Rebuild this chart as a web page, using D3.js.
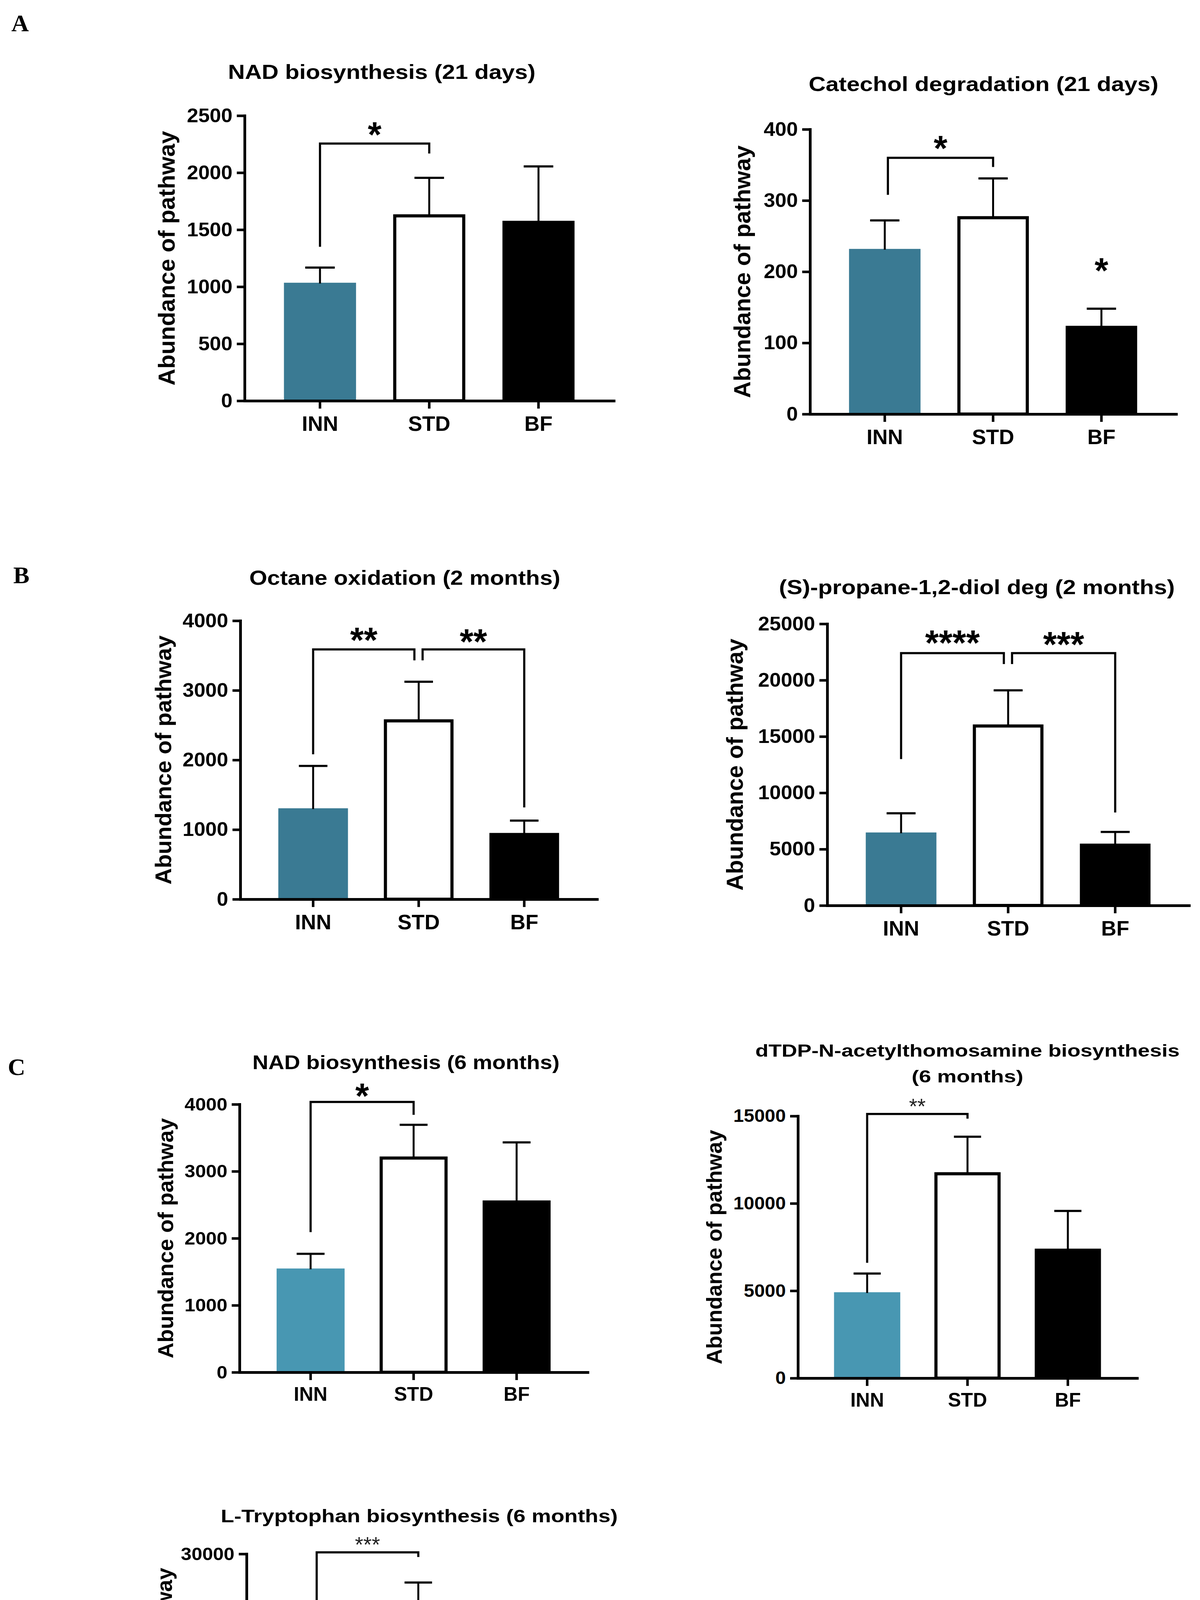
<!DOCTYPE html>
<html><head><meta charset="utf-8">
<script src="https://cdn.jsdelivr.net/npm/d3@7"></script>
<style>html,body{margin:0;padding:0;background:#fff;overflow:hidden}svg{display:block}</style>
</head><body>
<svg id="fig" width="3071" height="4752" viewBox="0 0 3071 4752" xmlns="http://www.w3.org/2000/svg"></svg>
<script>
// ---------------- DATA ----------------
const groups = ["INN", "STD", "BF"];

// A (left): NAD biosynthesis (21 days)
const nad21Title = ["NAD biosynthesis (21 days)"];
const nad21Mean  = [1035, 1635, 1578];
const nad21Err   = [133, 320, 477];
const nad21Ticks = [0, 500, 1000, 1500, 2000, 2500];
const nad21Sig   = [{from: 0, to: 1, label: "*", low1: 1350, top: 2255, low2: 2168, labelY: 2400}];

// A (right): Catechol degradation (21 days)
const cat21Title = ["Catechol degradation (21 days)"];
const cat21Mean  = [232, 278, 124];
const cat21Err   = [40, 53, 24];
const cat21Ticks = [0, 100, 200, 300, 400];
const cat21Sig   = [{from: 0, to: 1, label: "*", low1: 308, top: 360, low2: 347, labelY: 384}];
const cat21Marks = [{at: 2, label: "*", labelY: 212}];

// B (left): Octane oxidation (2 months)
const oct2Title = ["Octane oxidation (2 months)"];
const oct2Mean  = [1306, 2584, 952];
const oct2Err   = [609, 539, 177];
const oct2Ticks = [0, 1000, 2000, 3000, 4000];
const oct2Sig   = [
  {from: 0, to: 1, label: "**", low1: 2081, top: 3587, low2: 3430, labelY: 3826},
  {from: 1, to: 2, label: "**", low1: 3430, top: 3587, low2: 1318, labelY: 3804}
];

// B (right): (S)-propane-1,2-diol deg (2 months)
const prop2Title = ["(S)-propane-1,2-diol deg (2 months)"];
const prop2Mean  = [6480, 16070, 5490];
const prop2Err   = [1700, 3030, 1040];
const prop2Ticks = [0, 5000, 10000, 15000, 20000, 25000];
const prop2Sig   = [
  {from: 0, to: 1, label: "****", low1: 12990, top: 22400, low2: 21430, labelY: 23960},
  {from: 1, to: 2, label: "***",  low1: 21430, top: 22400, low2: 8250,  labelY: 23820}
];

// C (left): NAD biosynthesis (6 months)
const nad6Title = ["NAD biosynthesis (6 months)"];
const nad6Mean  = [1549, 3221, 2565];
const nad6Err   = [219, 473, 866];
const nad6Ticks = [0, 1000, 2000, 3000, 4000];
const nad6Sig   = [{from: 0, to: 1, label: "*", low1: 2092, top: 4035, low2: 3843, labelY: 4233}];

// C (right): dTDP-N-acetylthomosamine biosynthesis (6 months)
const dtdp6Title = ["dTDP-N-acetylthomosamine biosynthesis", "(6 months)"];
const dtdp6Mean  = [4915, 11785, 7410];
const dtdp6Err   = [1073, 2028, 2160];
const dtdp6Ticks = [0, 5000, 10000, 15000];
const dtdp6Sig   = [{from: 0, to: 1, label: "**", low1: 6600, top: 15115, low2: 14850, labelY: 15827}];

// C (bottom): L-Tryptophan biosynthesis (6 months)
const trp6Title = ["L-Tryptophan biosynthesis (6 months)"];
const trp6Mean  = [13500, 24100, 11760];
const trp6Err   = [2310, 2650, 2020];
const trp6Ticks = [0, 10000, 20000, 30000];
const trp6Sig   = [{from: 0, to: 1, label: "***", low1: 20270, top: 30180, low2: 29640, labelY: 31600}];

const yLabel = "Abundance of pathway";
const panelLetters = ["A", "B", "C"];

// ---------------- LAYOUT / STYLE ----------------
const FONT = "'Liberation Sans', Arial, Helvetica, sans-serif";
const SERIF = "'Liberation Serif', 'Times New Roman', serif";
const TEAL_D = "#3a7a93";
const TEAL_L = "#4897b2";

const letterPos = [{x: 29, y: 80}, {x: 34, y: 1493}, {x: 20, y: 2752}];

const panels = [
  {title: nad21Title, mean: nad21Mean, err: nad21Err, ticks: nad21Ticks, sig: nad21Sig, marks: [],
   ax: 626, xEnd: 1571, y0: 1026, yTop: 296, color: TEAL_D,
   titleX: 977, titleY: [202], titleW: [787], titleSize: 52,
   tickSize: 50, tickStretch: 1.05, xlabSize: 54, xlabPad: 19,
   ylabX: 447, ylabLen: 652, starSize: 90, starWeight: "bold", nudges: [[0, 0]]},
  {title: cat21Title, mean: cat21Mean, err: cat21Err, ticks: cat21Ticks, sig: cat21Sig, marks: cat21Marks,
   ax: 2073, xEnd: 3010, y0: 1060, yTop: 331, color: TEAL_D,
   titleX: 2517, titleY: [233], titleW: [895], titleSize: 52,
   tickSize: 50, tickStretch: 1.05, xlabSize: 54, xlabPad: 19,
   ylabX: 1920, ylabLen: 647, starSize: 90, starWeight: "bold", nudges: [[8, 0]]},
  {title: oct2Title, mean: oct2Mean, err: oct2Err, ticks: oct2Ticks, sig: oct2Sig, marks: [],
   ax: 615, xEnd: 1528, y0: 2302, yTop: 1589, color: TEAL_D,
   titleX: 1036, titleY: [1497], titleW: [796], titleSize: 52,
   tickSize: 50, tickStretch: 1.05, xlabSize: 54, xlabPad: 19,
   ylabX: 438, ylabLen: 638, starSize: 90, starWeight: "bold", nudges: [[0, -11], [10, 0]]},
  {title: prop2Title, mean: prop2Mean, err: prop2Err, ticks: prop2Ticks, sig: prop2Sig, marks: [],
   ax: 2117, xEnd: 3043, y0: 2318, yTop: 1597, color: TEAL_D,
   titleX: 2500, titleY: [1521], titleW: [1013], titleSize: 52,
   tickSize: 50, tickStretch: 1.05, xlabSize: 54, xlabPad: 19,
   ylabX: 1901, ylabLen: 645, starSize: 90, starWeight: "bold", nudges: [[0, -11], [10, 0]]},
  {title: nad6Title, mean: nad6Mean, err: nad6Err, ticks: nad6Ticks, sig: nad6Sig, marks: [],
   ax: 613, xEnd: 1504, y0: 3513, yTop: 2827, color: TEAL_L,
   titleX: 1039, titleY: [2737], titleW: [786], titleSize: 50,
   tickSize: 47, tickStretch: 1.05, xlabSize: 50, xlabPad: 17,
   ylabX: 443, ylabLen: 615, starSize: 90, starWeight: "bold", nudges: [[0, 0]]},
  {title: dtdp6Title, mean: dtdp6Mean, err: dtdp6Err, ticks: dtdp6Ticks, sig: dtdp6Sig, marks: [],
   ax: 2042, xEnd: 2910, y0: 3528, yTop: 2857, color: TEAL_L,
   titleX: 2476, titleY: [2705, 2771], titleW: [1086, 286], titleSize: 45,
   tickSize: 46, tickStretch: 1.05, xlabSize: 50, xlabPad: 17,
   ylabX: 1847, ylabLen: 600, starSize: 55, starWeight: "normal", nudges: [[0, 0]]},
  {title: trp6Title, mean: trp6Mean, err: trp6Err, ticks: trp6Ticks, sig: trp6Sig, marks: [],
   ax: 631, xEnd: 1510, y0: 4653, yTop: 3978, color: TEAL_L,
   titleX: 1073, titleY: [3897], titleW: [1016], titleSize: 47,
   tickSize: 47, tickStretch: 1.05, xlabSize: 50, xlabPad: 14,
   ylabX: 440, ylabLen: 604, starSize: 55, starWeight: "normal", nudges: [[0, 0]]}
];

// ---------------- DRAW ----------------
const svg = d3.select("#fig");
svg.append("rect").attr("width", 3071).attr("height", 4752).attr("fill", "#fff");

function stretchText(sel, factor) {
  sel.each(function () {
    const w = this.getComputedTextLength();
    this.setAttribute("textLength", w * factor);
    this.setAttribute("lengthAdjust", "spacingAndGlyphs");
  });
}

panelLetters.forEach((L, i) => {
  svg.append("text").attr("x", letterPos[i].x).attr("y", letterPos[i].y)
    .attr("font-family", SERIF).attr("font-weight", "bold").attr("font-size", 62)
    .attr("fill", "#000").text(L);
});

function drawPanel(p) {
  const g = svg.append("g");
  const y = d3.scaleLinear().domain([0, d3.max(p.ticks)]).range([p.y0, p.yTop]);
  const x = d3.scaleBand().domain(groups).range([p.ax, p.xEnd]).paddingInner(0.34).paddingOuter(0.36);
  const bw = x.bandwidth();
  const cx = i => x(groups[i]) + bw / 2;

  // bars
  const fills = [p.color, "#fff", "#000"];
  const sw = 8;
  groups.forEach((gname, i) => {
    const v = p.mean[i];
    if (i === 1) {
      g.append("rect")
        .attr("x", x(gname) + sw / 2).attr("width", bw - sw)
        .attr("y", y(v) + sw / 2).attr("height", p.y0 - y(v) - sw / 2)
        .attr("fill", "#fff").attr("stroke", "#000").attr("stroke-width", sw);
    } else {
      g.append("rect")
        .attr("x", x(gname)).attr("width", bw)
        .attr("y", y(v)).attr("height", p.y0 - y(v))
        .attr("fill", fills[i]);
    }
  });

  // error bars (upper)
  const capW = bw * 0.41;
  groups.forEach((gname, i) => {
    const c = cx(i), top = y(p.mean[i] + p.err[i]);
    g.append("line").attr("x1", c).attr("x2", c).attr("y1", y(p.mean[i]) + 2).attr("y2", top)
      .attr("stroke", "#000").attr("stroke-width", 5);
    g.append("line").attr("x1", c - capW / 2).attr("x2", c + capW / 2).attr("y1", top).attr("y2", top)
      .attr("stroke", "#000").attr("stroke-width", 5.5);
  });

  // axes
  const yAx = g.append("g").attr("transform", `translate(${p.ax},0)`)
    .call(d3.axisLeft(y).tickValues(p.ticks).tickSize(20).tickSizeOuter(0).tickPadding(11).tickFormat(d3.format("d")));
  const xAx = g.append("g").attr("transform", `translate(0,${p.y0})`)
    .call(d3.axisBottom(x).tickSize(20).tickSizeOuter(0).tickPadding(p.xlabPad));
  [yAx, xAx].forEach(a => {
    a.attr("font-family", FONT).attr("font-weight", "bold").attr("color", "#000");
    a.select(".domain").attr("stroke-width", 7).attr("stroke-linecap", "square");
    a.selectAll(".tick line").attr("stroke-width", 6.5);
  });
  yAx.attr("font-size", p.tickSize);
  xAx.attr("font-size", p.xlabSize);
  stretchText(yAx.selectAll(".tick text"), p.tickStretch);

  // y label
  const yl = (p.y0 + p.yTop) / 2;
  g.append("text").attr("transform", `translate(${p.ylabX},${yl}) rotate(-90)`)
    .attr("text-anchor", "middle").attr("font-family", FONT).attr("font-weight", "bold")
    .attr("font-size", p.ylabLen / 10.95).attr("textLength", p.ylabLen).attr("lengthAdjust", "spacingAndGlyphs")
    .attr("fill", "#000").text(yLabel);

  // title
  p.title.forEach((t, k) => {
    g.append("text").attr("x", p.titleX).attr("y", p.titleY[k]).attr("text-anchor", "middle")
      .attr("font-family", FONT).attr("font-weight", "bold").attr("font-size", p.titleSize)
      .attr("textLength", p.titleW[k]).attr("lengthAdjust", "spacingAndGlyphs")
      .attr("fill", "#000").text(t);
  });

  // significance brackets
  p.sig.forEach((s, k) => {
    const nd = p.nudges[k] || [0, 0];
    const xa = cx(s.from) + nd[0], xb = cx(s.to) + nd[1];
    g.append("path")
      .attr("d", `M${xa},${y(s.low1)}V${y(s.top)}H${xb}V${y(s.low2)}`)
      .attr("fill", "none").attr("stroke", "#000").attr("stroke-width", 5.5);
    g.append("text").attr("x", (xa + xb) / 2).attr("y", y(s.labelY) + 0.56 * p.starSize)
      .attr("text-anchor", "middle").attr("font-family", FONT).attr("font-weight", p.starWeight)
      .attr("font-size", p.starSize).attr("fill", p.starWeight === "bold" ? "#000" : "#222").text(s.label);
  });
  p.marks.forEach(m => {
    g.append("text").attr("x", cx(m.at)).attr("y", y(m.labelY) + 0.56 * p.starSize)
      .attr("text-anchor", "middle").attr("font-family", FONT).attr("font-weight", p.starWeight)
      .attr("font-size", p.starSize).attr("fill", "#000").text(m.label);
  });
}

panels.forEach(drawPanel);
</script>
</body></html>
